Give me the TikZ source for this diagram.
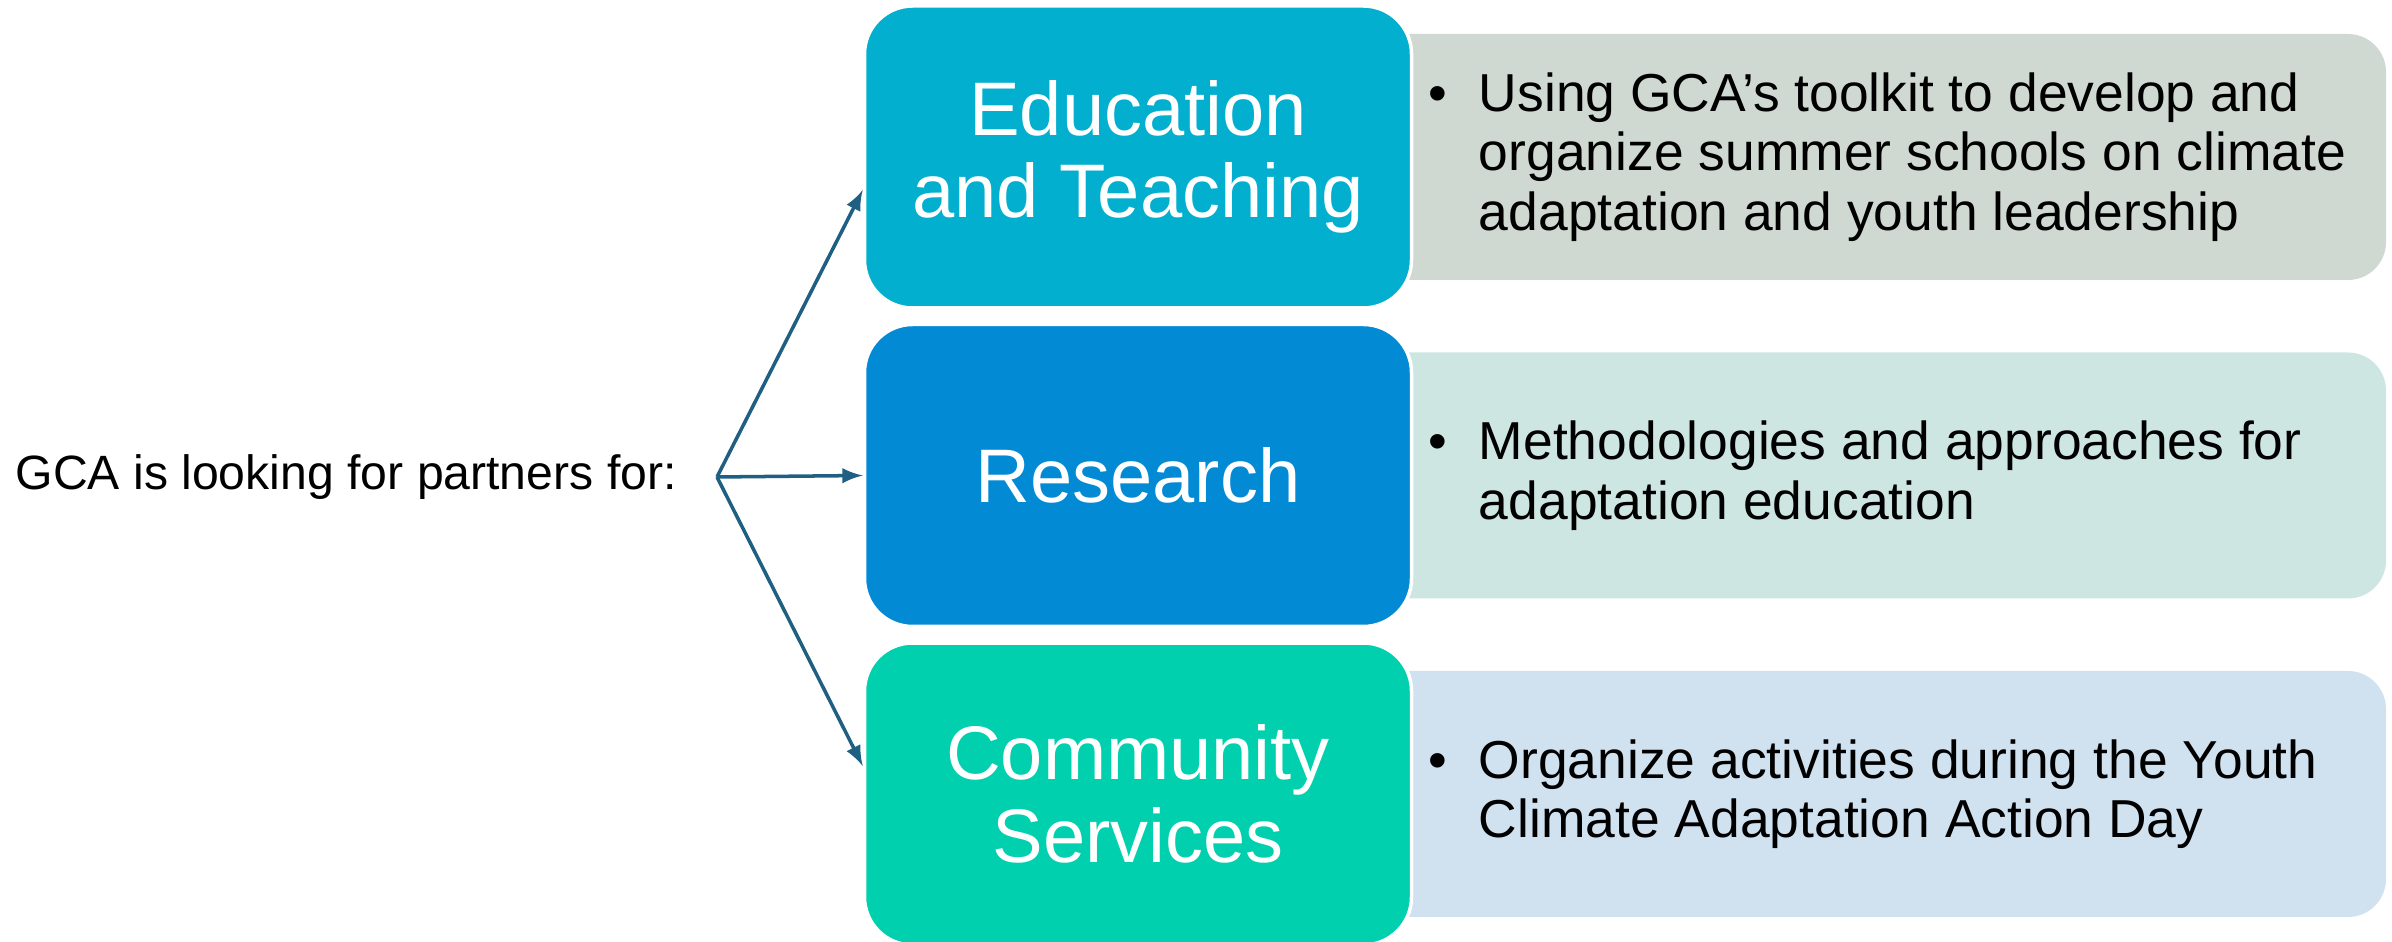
\documentclass[tikz,border=0pt]{standalone}
\usepackage{fontspec}
\setmainfont{Liberation Sans}
\usetikzlibrary{arrows}
\usetikzlibrary{backgrounds}
\usetikzlibrary{positioning}
\definecolor{edublue}{RGB}{3,175,206}
\definecolor{resblue}{RGB}{2,138,213}
\definecolor{comgreen}{RGB}{1,208,174}
\definecolor{edugray}{RGB}{208,216,210}
\definecolor{resmint}{RGB}{206,230,225}
\definecolor{comsky}{RGB}{208,225,240}
\definecolor{linkblue}{RGB}{30,95,130}
\newcommand{\itembullet}{\makebox[0.5cm][l]{\textbullet}}

\begin{document}
\begin{tikzpicture}[node distance=3.185cm,on grid,>=latex,
    area/.style={rectangle, rounded corners=0.48cm, draw=white, line width=1pt,
      minimum width=5.47cm, minimum height=3.02cm, align=center, text=white,
      font=\fontsize{21.6}{23.5}\selectfont},
    detail/.style={rectangle, rounded corners=0.38cm, minimum width=10.36cm, minimum height=2.46cm},
    desc/.style={anchor=west, align=left, inner sep=0pt, font=\fontsize{15.2}{16.9}\selectfont},
    link/.style={->, draw=linkblue, line width=1pt}]

        \useasboundingbox (0,0) rectangle (23.92,-9.42);

        \node[area, fill=edublue] (edu) at (11.38,-1.57) {Education\\and Teaching};
        \node[area, fill=resblue] (res) [below=of edu] {Research};
        \node[area, fill=comgreen] (com) [below=of res] {Community\\Services};

        \begin{scope}[on background layer]
        \node[detail, fill=edugray] (edu_box) [right=7.3cm of edu] {};
        \node[detail, fill=resmint] (res_box) [right=7.3cm of res] {};
        \node[detail, fill=comsky] (com_box) [right=7.3cm of com] {};
        \end{scope}

        \node[desc] (edu_txt) at ([xshift=0.15cm]edu.east)
          {\itembullet Using GCA’s toolkit to develop and\\
           \hspace*{0.5cm}organize summer schools on climate\\
           \hspace*{0.5cm}adaptation and youth leadership};
        \node[desc] (res_txt) at ([xshift=0.15cm]res.east)
          {\itembullet Methodologies and approaches for\\
           \hspace*{0.5cm}adaptation education};
        \node[desc] (com_txt) at ([xshift=0.15cm]com.east)
          {\itembullet Organize activities during the Youth\\
           \hspace*{0.5cm}Climate Adaptation Action Day};

        \node[anchor=west, inner sep=0pt, font=\fontsize{13.7}{16}\selectfont] (intro) at (0.15,-4.77)
          {GCA is looking for partners for:};
        \coordinate (fork) at (7.17,-4.77);

        \draw[link] (fork) -- ([yshift=-0.33cm]edu.west);
        \draw[link] (fork) -- (res.west);
        \draw[link] (fork) -- ([yshift=0.28cm]com.west);
      \end{tikzpicture}
\end{document}
